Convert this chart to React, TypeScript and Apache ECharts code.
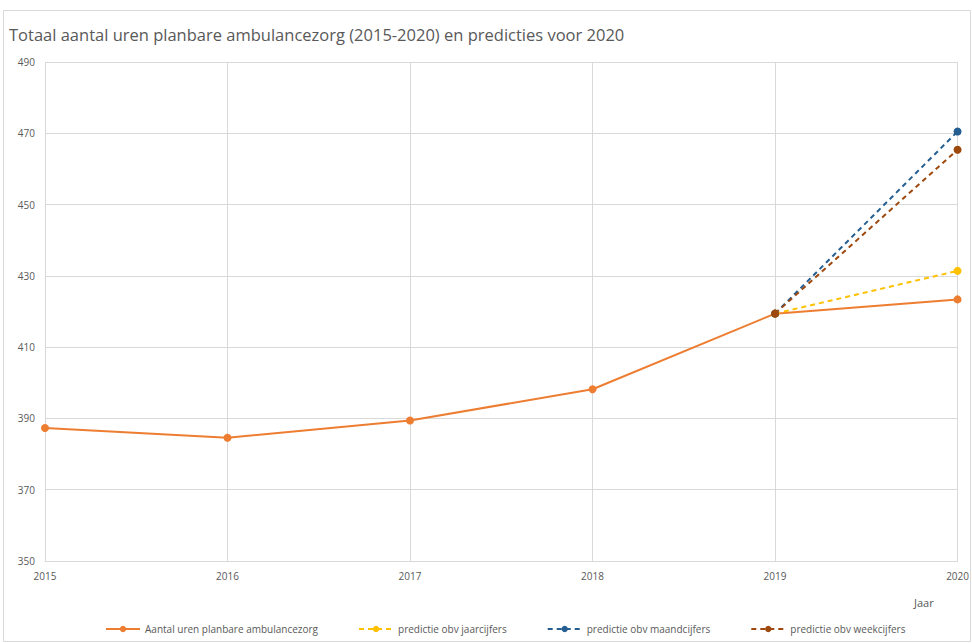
import React, { useEffect, useRef } from "react";
import * as echarts from "echarts";

const years = ["2015", "2016", "2017", "2018", "2019", "2020"];
const actual = [387.3, 384.6, 389.4, 398.2, 419.4, 423.4];
const predJaar = [null, null, null, null, 419.4, 431.4];
const predMaand = [null, null, null, null, 419.4, 470.5];
const predWeek = [null, null, null, null, 419.4, 465.4];

const FONT = "'Open Sans', 'Noto Sans', sans-serif";

export default function App() {
  const ref = useRef<HTMLDivElement>(null);
  useEffect(() => {
    if (!ref.current) return;
    const chart = echarts.init(ref.current, undefined, { renderer: "svg" });
    const dashed = (name: string, data: (number | null)[], color: string) => ({
      name,
      type: "line",
      data,
      symbol: "circle",
      symbolSize: 8,
      connectNulls: false,
      lineStyle: { color, width: 2, type: [5, 4] },
      itemStyle: { color },
      z: 3,
    });
    chart.setOption({
      animation: false,
      textStyle: { fontFamily: FONT },
      title: {
        text: "Totaal aantal uren planbare ambulancezorg (2015-2020) en predicties voor 2020",
        left: 4,
        top: 21,
        textStyle: { fontSize: 16.5, fontWeight: "normal", color: "#595959", fontFamily: FONT },
      },
      grid: { left: 45, right: 10, top: 62, bottom: 82 },
      xAxis: {
        type: "category",
        data: years,
        boundaryGap: false,
        axisLine: { lineStyle: { color: "#D9D9D9" } },
        axisTick: { show: false },
        axisLabel: { color: "#595959", fontSize: 10, margin: 10 },
        splitLine: { show: true, lineStyle: { color: "#D9D9D9" } },
      },
      yAxis: {
        type: "value",
        min: 350,
        max: 490,
        interval: 20,
        axisLine: { show: false },
        axisTick: { show: false },
        axisLabel: { color: "#595959", fontSize: 10, margin: 10 },
        splitLine: { lineStyle: { color: "#D9D9D9" } },
      },
      legend: {
        bottom: 4,
        left: 100,
        itemGap: 40,
        itemWidth: 34,
        itemHeight: 8,
        textStyle: { color: "#595959", fontSize: 10, fontFamily: FONT },
        data: [
          "Aantal uren planbare ambulancezorg",
          "predictie obv jaarcijfers",
          "predictie obv maandcijfers",
          "predictie obv weekcijfers",
        ],
      },
      graphic: [
        {
          type: "rect",
          shape: { x: 3.5, y: 10.5, width: 967, height: 631 },
          style: { fill: "none", stroke: "#D9D9D9", lineWidth: 1 },
          silent: true,
        },
        {
          type: "text",
          left: 914,
          top: 597,
          style: { text: "Jaar", fill: "#595959", fontSize: 11, fontFamily: FONT },
        },
      ],
      series: [
        {
          name: "Aantal uren planbare ambulancezorg",
          type: "line",
          data: actual,
          symbol: "circle",
          symbolSize: 8,
          lineStyle: { color: "#ED7D31", width: 2 },
          itemStyle: { color: "#ED7D31" },
          z: 2,
        },
        dashed("predictie obv jaarcijfers", predJaar, "#FFC000"),
        dashed("predictie obv maandcijfers", predMaand, "#255E91"),
        dashed("predictie obv weekcijfers", predWeek, "#9E480E"),
      ],
    });
    return () => chart.dispose();
  }, []);
  return (
    <div
      ref={ref}
      style={{ position: "fixed", left: 0, top: 0, width: 972, height: 643, background: "#fff" }}
    />
  );
}
